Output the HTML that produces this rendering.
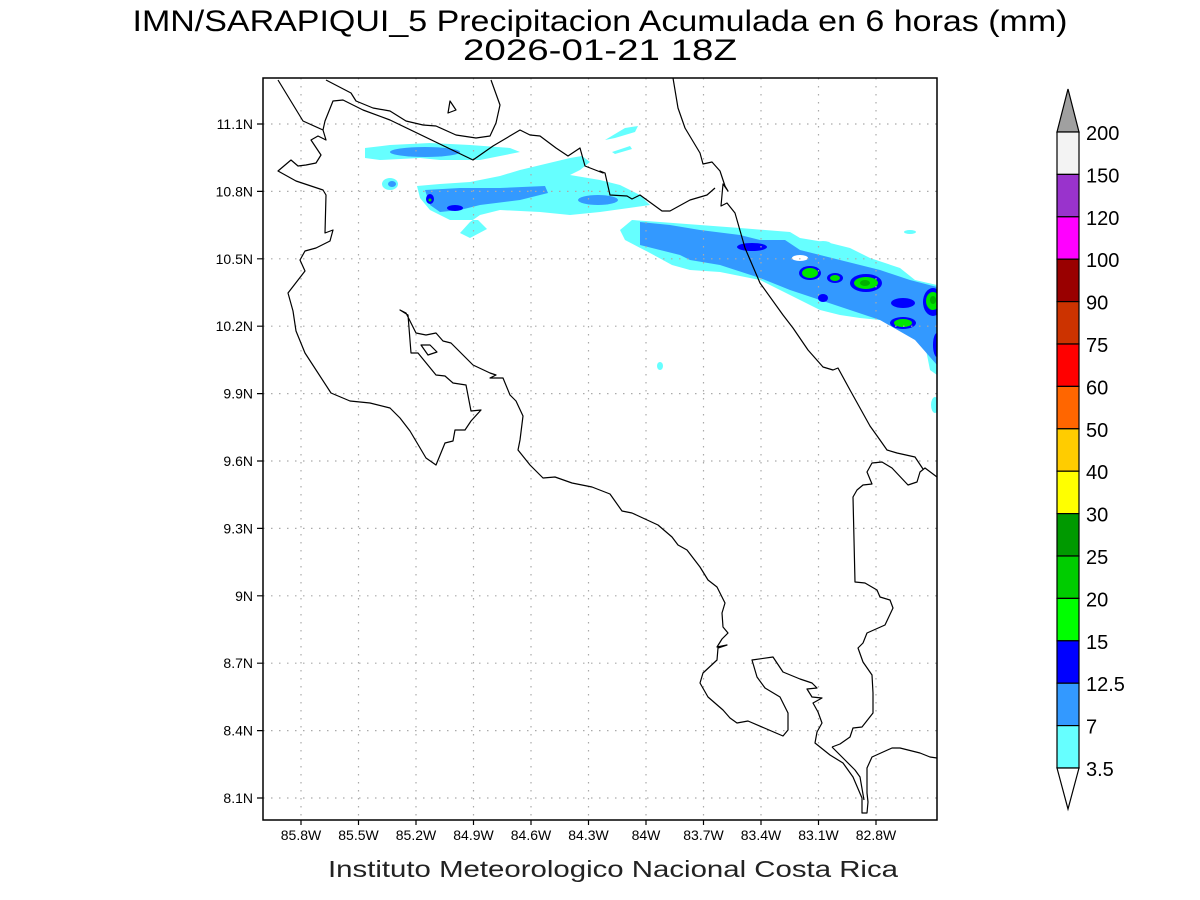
<!DOCTYPE html>
<html><head><meta charset="utf-8"><style>html,body{margin:0;padding:0;background:#fff}svg{display:block}</style></head>
<body>
<svg width="1200" height="900" viewBox="0 0 1200 900" xmlns="http://www.w3.org/2000/svg" font-family="Liberation Sans, sans-serif">
<rect width="1200" height="900" fill="#fff"/>
<text x="600" y="31" font-size="30" text-anchor="middle" textLength="935" lengthAdjust="spacingAndGlyphs" fill="#000">IMN/SARAPIQUI_5 Precipitacion Acumulada en 6 horas (mm)</text>
<text x="600" y="60" font-size="30" text-anchor="middle" textLength="274" lengthAdjust="spacingAndGlyphs" fill="#000">2026-01-21 18Z</text>
<text x="613" y="877" font-size="23" text-anchor="middle" textLength="570" lengthAdjust="spacingAndGlyphs" fill="#222">Instituto Meteorologico Nacional Costa Rica</text>

<clipPath id="c"><rect x="263" y="78" width="674" height="742"/></clipPath>
<g clip-path="url(#c)">
<!-- precip -->
<g fill="#66ffff">
<path d="M365,148 L390,145 L430,143 L470,145 L510,148 L520,152 L480,160 L440,160 L420,158 L380,160 L365,158 Z"/>
<path d="M417,186 L440,184 L470,182 L500,176 L520,170 L545,164 L570,158 L582,156 L590,162 L580,170 L570,175 L600,180 L620,185 L640,195 L650,205 L600,212 L570,215 L540,212 L500,210 L480,215 L470,222 L460,233 L470,238 L487,229 L478,220 L450,220 L430,210 L420,198 Z"/>
<ellipse cx="390" cy="184" rx="8" ry="6"/>
<path d="M605,140 L625,128 L638,126 L635,132 L615,138 Z"/>
<path d="M612,152 L630,146 L632,149 L615,154 Z"/>
<path d="M632,220 L660,222 L700,225 L740,228 L790,232 L800,238 L830,243 L850,248 L870,258 L900,268 L915,280 L937,285 L937,375 L930,370 L925,345 L910,330 L880,320 L860,318 L840,315 L820,310 L800,300 L780,290 L760,280 L720,272 L690,270 L672,265 L650,253 L625,240 L620,230 Z"/>
<ellipse cx="823" cy="244" rx="8" ry="3"/>
<ellipse cx="910" cy="232" rx="6" ry="2"/>
<ellipse cx="935" cy="405" rx="4" ry="8"/>
<ellipse cx="660" cy="366" rx="3" ry="4"/>
</g>
<g fill="#3399ff">
<ellipse cx="425" cy="152" rx="35" ry="5"/>
<path d="M425,190 L460,188 L500,188 L545,186 L548,193 L520,200 L480,205 L460,210 L440,212 L430,205 Z"/>
<ellipse cx="598" cy="200" rx="20" ry="5"/>
<ellipse cx="392" cy="184" rx="4" ry="3"/>
<path d="M640,222 L670,225 L700,230 L740,235 L760,240 L785,240 L800,250 L840,260 L880,270 L910,280 L937,287 L937,365 L915,340 L880,320 L850,310 L820,300 L790,290 L760,278 L720,265 L690,260 L680,255 L640,245 Z"/>
</g>
<g fill="#fff"><ellipse cx="800" cy="258" rx="8" ry="3"/></g>
<g fill="#0000ff">
<ellipse cx="430" cy="199" rx="4" ry="5"/>
<ellipse cx="455" cy="208" rx="8" ry="3"/>
<ellipse cx="752" cy="247" rx="15" ry="4"/>
<ellipse cx="810" cy="273" rx="11" ry="7"/>
<ellipse cx="835" cy="278" rx="8" ry="5"/>
<ellipse cx="866" cy="283" rx="16" ry="9"/>
<ellipse cx="823" cy="298" rx="5" ry="4"/>
<ellipse cx="903" cy="303" rx="12" ry="5"/>
<ellipse cx="933" cy="302" rx="10" ry="14"/>
<ellipse cx="903" cy="323" rx="13" ry="6"/>
<ellipse cx="937" cy="345" rx="4" ry="12"/>
</g>
<g fill="#00e600">
<ellipse cx="810" cy="273" rx="8" ry="5"/>
<ellipse cx="835" cy="278" rx="5" ry="3"/>
<ellipse cx="866" cy="283" rx="12" ry="6"/>
<ellipse cx="933" cy="301" rx="7" ry="9"/>
<ellipse cx="903" cy="323" rx="9" ry="4"/>
<ellipse cx="430" cy="200" rx="1.5" ry="1.5"/>
</g>
<g fill="#00b000"><ellipse cx="865" cy="283" rx="5" ry="3"/><ellipse cx="933" cy="300" rx="3" ry="4"/></g>

<!-- grid -->
<g stroke="#aaa" stroke-width="1.2" stroke-dasharray="1.5,6.5" fill="none">
<path d="M301,78V820M358.5,78V820M416,78V820M473.5,78V820M531,78V820M588.5,78V820M646,78V820M703.5,78V820M761,78V820M818.5,78V820M876,78V820"/>
<path d="M263,124H937M263,191.4H937M263,258.8H937M263,326.2H937M263,393.6H937M263,461H937M263,528.4H937M263,595.8H937M263,663.2H937M263,730.6H937M263,798H937"/>
</g>

<!-- coast -->
<g stroke="#000" stroke-width="1.2" fill="none" stroke-linejoin="round">
<polyline points="278,80 303,121 323,130 326,140 318,136 311,140 321,155 316,163 306,165 298,166 291,160 278,171 296,181 323,190 326,195 325,233 333,230 330,241 316,248 305,251 300,260 305,271 288,293 293,311 296,331 305,353 331,393 350,401 370,403 390,408 400,418 410,431 426,458 436,465 445,443 453,441 455,430 465,430 471,421 481,410 471,411 466,385 453,383 445,376 436,375 418,353 411,353 408,315 400,310 406,313 416,333 426,335 436,333 443,341 451,343 463,355 473,365 490,373 496,375 490,378 503,378 510,395 516,401 523,416 520,440 518,450 530,465 543,478 555,477 572,483 592,487 610,494 622,511 632,513 658,525 672,537 678,545 687,550 700,567 708,580 717,587 725,603 722,613 723,627 728,633 722,639 717,647 727,645 718,648 717,660 703,673 700,683 708,697 723,710 730,718 737,723 748,721 783,736 788,730 788,713 780,697 765,688 757,677 752,660 773,657 783,672 800,679 812,683 817,688 807,689 812,697 822,698 813,703 818,712 822,723 817,732 815,743 830,755 843,763 853,777 862,798 862,813 867,813 868,802 867,793 867,768 872,757 892,748 900,748 920,753 930,757 937,758"/>
<polyline points="832,747 840,744 850,737 853,728 862,727 873,713 873,693 872,675 863,662 858,648 863,643 867,633 885,625 893,608 890,600 880,597 877,590 865,583 855,582 853,497 857,490 863,485 872,484 867,472 872,463 882,462 892,468 908,485 917,482 920,472 925,468 937,477"/>
<polyline points="832,747 845,760 855,770 860,777 864,800"/>
<polyline points="923,469 915,457 897,453 887,450 880,440 870,426 850,390 838,368 833,370 823,367 808,350 793,328 783,315 760,283 745,248 735,213 727,203 721,206 723,184 728,191 725,186 720,171 712,162 703,164 700,153 685,128 678,108 673,78"/>
<polyline points="715,188 707,195 690,200 670,211 662,211 640,195 632,199 627,196 610,195 605,173 600,171 603,173 585,166 580,148 568,156 556,148 540,136 530,135 520,130 493,146 473,160 390,120 363,110 353,105 343,100 333,101 325,121 323,130"/>
<polyline points="326,80 351,93 356,101 373,108 390,111 406,121 423,125 436,126 456,135 476,138 490,136 496,123 500,105 491,80"/>
<polygon points="448,113 450,101 456,110"/>
<polygon points="421,345 430,345 437,352 428,355"/>
</g>
</g>
<rect x="263" y="78" width="674" height="742" fill="none" stroke="#000" stroke-width="1.5"/>

<!-- ticks -->
<g stroke="#000" stroke-width="1.2">
<path d="M301,820v5M358.5,820v5M416,820v5M473.5,820v5M531,820v5M588.5,820v5M646,820v5M703.5,820v5M761,820v5M818.5,820v5M876,820v5"/>
<path d="M257,124h6M257,191.4h6M257,258.8h6M257,326.2h6M257,393.6h6M257,461h6M257,528.4h6M257,595.8h6M257,663.2h6M257,730.6h6M257,798h6"/>
</g>
<g font-size="14" fill="#000" text-anchor="end">
<text x="253" y="129">11.1N</text><text x="253" y="196.4">10.8N</text><text x="253" y="263.8">10.5N</text><text x="253" y="331.2">10.2N</text><text x="253" y="398.6">9.9N</text><text x="253" y="466">9.6N</text><text x="253" y="533.4">9.3N</text><text x="253" y="600.8">9N</text><text x="253" y="668.2">8.7N</text><text x="253" y="735.6">8.4N</text><text x="253" y="803">8.1N</text>
</g>
<g font-size="14" fill="#000" text-anchor="middle">
<text x="301" y="840">85.8W</text><text x="358.5" y="840">85.5W</text><text x="416" y="840">85.2W</text><text x="473.5" y="840">84.9W</text><text x="531" y="840">84.6W</text><text x="588.5" y="840">84.3W</text><text x="646" y="840">84W</text><text x="703.5" y="840">83.7W</text><text x="761" y="840">83.4W</text><text x="818.5" y="840">83.1W</text><text x="876" y="840">82.8W</text>
</g>

<!-- colorbar -->
<g stroke="#000" stroke-width="1.2">
<polygon points="1057,132 1068,89 1079,132" fill="#a0a0a0"/>
<rect x="1057" y="132" width="22" height="42.4" fill="#f3f3f3"/>
<rect x="1057" y="174.4" width="22" height="42.4" fill="#9933cc"/>
<rect x="1057" y="216.8" width="22" height="42.4" fill="#ff00ff"/>
<rect x="1057" y="259.2" width="22" height="42.4" fill="#990000"/>
<rect x="1057" y="301.6" width="22" height="42.4" fill="#cc3300"/>
<rect x="1057" y="344" width="22" height="42.4" fill="#ff0000"/>
<rect x="1057" y="386.4" width="22" height="42.4" fill="#ff6600"/>
<rect x="1057" y="428.8" width="22" height="42.4" fill="#ffcc00"/>
<rect x="1057" y="471.2" width="22" height="42.4" fill="#ffff00"/>
<rect x="1057" y="513.6" width="22" height="42.4" fill="#009900"/>
<rect x="1057" y="556" width="22" height="42.4" fill="#00cc00"/>
<rect x="1057" y="598.4" width="22" height="42.4" fill="#00ff00"/>
<rect x="1057" y="640.8" width="22" height="42.4" fill="#0000ff"/>
<rect x="1057" y="683.2" width="22" height="42.4" fill="#3399ff"/>
<rect x="1057" y="725.6" width="22" height="42.4" fill="#66ffff"/>
<polygon points="1057,768 1068,809 1079,768" fill="#fff"/>
</g>
<g font-size="20" fill="#000">
<text x="1086" y="140">200</text><text x="1086" y="182.4">150</text><text x="1086" y="224.8">120</text><text x="1086" y="267.2">100</text><text x="1086" y="309.6">90</text><text x="1086" y="352">75</text><text x="1086" y="394.4">60</text><text x="1086" y="436.8">50</text><text x="1086" y="479.2">40</text><text x="1086" y="521.6">30</text><text x="1086" y="564">25</text><text x="1086" y="606.4">20</text><text x="1086" y="648.8">15</text><text x="1086" y="691.2">12.5</text><text x="1086" y="733.6">7</text><text x="1086" y="776">3.5</text>
</g>
</svg>
</body></html>
